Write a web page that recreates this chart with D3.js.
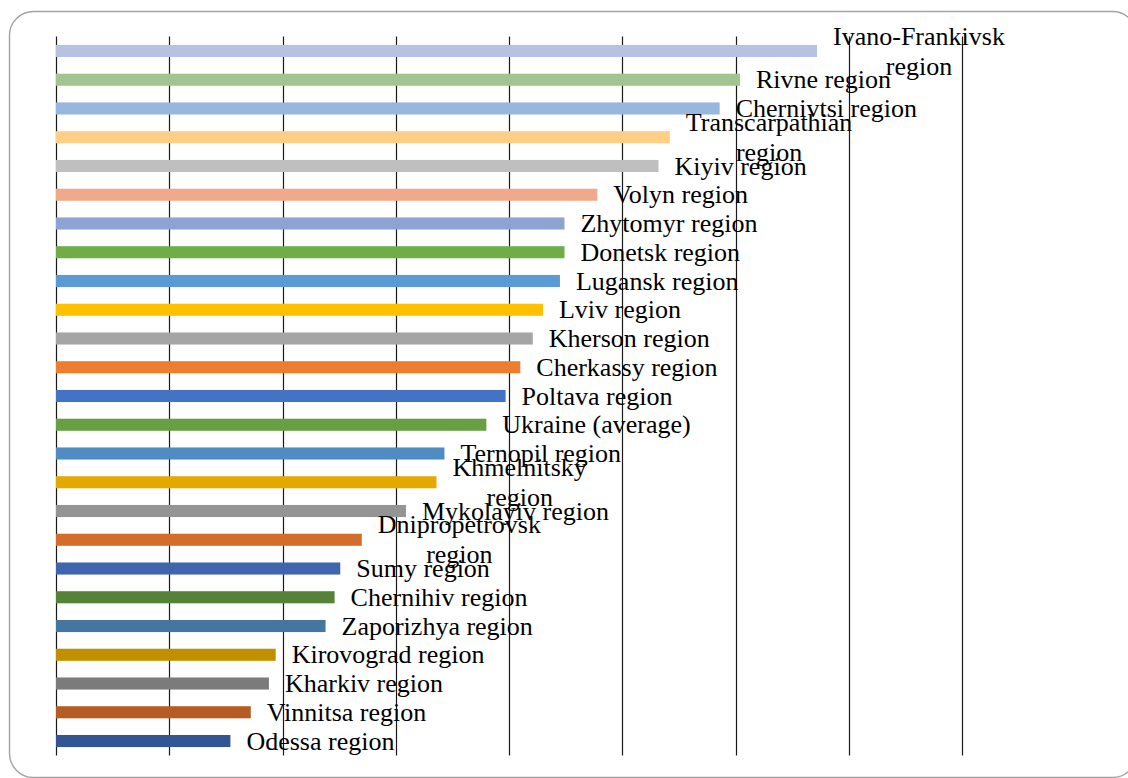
<!DOCTYPE html>
<html>
<head>
<meta charset="utf-8">
<script src="https://cdn.jsdelivr.net/npm/d3@7"></script>
<style>
  html, body { margin: 0; padding: 0; background: #ffffff; }
  svg { display: block; }
  .label { font-family: "Liberation Serif", "Times New Roman", serif; font-size: 26px; fill: #000; }
</style>
</head>
<body>
<svg id="chart" width="1128" height="778"></svg>
<script>
// Regions, ordered from highest to lowest value
const regions = [
  "Ivano-Frankivsk region", "Rivne region", "Chernivtsi region", "Transcarpathian region",
  "Kiyiv region", "Volyn region", "Zhytomyr region", "Donetsk region", "Lugansk region",
  "Lviv region", "Kherson region", "Cherkassy region", "Poltava region", "Ukraine (average)",
  "Ternopil region", "Khmelnitsky region", "Mykolayiv region", "Dnipropetrovsk region",
  "Sumy region", "Chernihiv region", "Zaporizhya region", "Kirovograd region",
  "Kharkiv region", "Vinnitsa region", "Odessa region"
];

const values = [
  67.2, 60.4, 58.6, 54.2,
  53.2, 47.8, 44.9, 44.9, 44.5,
  43.0, 42.1, 41.0, 39.7, 38.0,
  34.3, 33.6, 30.9, 27.0,
  25.1, 24.6, 23.8, 19.4,
  18.8, 17.2, 15.4
];

const barColors = [
  "#b7c2e2", "#a3c490", "#98b7de", "#fecf84",
  "#bfbfbf", "#f1a98b", "#8fa3d3", "#70ad47", "#5b9bd5",
  "#ffc000", "#a5a5a5", "#ed7d31", "#4472c4", "#679f44",
  "#4f8cc2", "#e2aa00", "#949494", "#d26d2c",
  "#3e65ae", "#548237", "#44769f", "#c09000",
  "#7b7b7b", "#b45c24", "#315694"
];

const gridTicks = [0, 10, 20, 30, 40, 50, 60, 70, 80];

const svg = d3.select("#chart");

// Slide frame
svg.append("rect")
  .attr("x", 9.5).attr("y", 11.5)
  .attr("width", 1127).attr("height", 766)
  .attr("rx", 24).attr("ry", 24)
  .attr("fill", "none")
  .attr("stroke", "#a3a3a3")
  .attr("stroke-width", 1.4);

const plot = { left: 56, right: 962, top: 36.6, bottom: 755.4 };

const x = d3.scaleLinear().domain([0, 80]).range([plot.left, plot.right]);
const y = d3.scaleBand().domain(regions)
  .range([plot.top, plot.bottom])
  .paddingInner(0.58).paddingOuter(0.29);

// Vertical gridlines
svg.append("g").selectAll("line")
  .data(gridTicks)
  .join("line")
  .attr("x1", d => Math.round(x(d)) + 0.5)
  .attr("x2", d => Math.round(x(d)) + 0.5)
  .attr("y1", plot.top)
  .attr("y2", plot.bottom)
  .attr("stroke", "#1a1a1a")
  .attr("stroke-width", 1.2);

const rows = regions.map((r, i) => ({ name: r, value: values[i], color: barColors[i] }));

// Bars
svg.append("g").selectAll("rect")
  .data(rows)
  .join("rect")
  .attr("x", x(0))
  .attr("y", d => y(d.name))
  .attr("width", d => x(d.value) - x(0))
  .attr("height", y.bandwidth())
  .attr("fill", d => d.color);

// Data labels, wrapped when wider than the label box
const maxLabelWidth = 200;
const lineHeight = 30;
const labelGap = 16;

const labels = svg.append("g");

rows.forEach(d => {
  const cy = y(d.name) + y.bandwidth() / 2;
  const probe = labels.append("text").attr("class", "label").text(d.name);
  const full = probe.node().getComputedTextLength();
  let lines = [d.name];
  if (full > maxLabelWidth) {
    const words = d.name.split(" ");
    lines = [];
    let cur = "";
    words.forEach(w => {
      const test = cur ? cur + " " + w : w;
      probe.text(test);
      if (probe.node().getComputedTextLength() > maxLabelWidth && cur) {
        lines.push(cur);
        cur = w;
      } else {
        cur = test;
      }
    });
    if (cur) lines.push(cur);
  }
  const widths = lines.map(l => { probe.text(l); return probe.node().getComputedTextLength(); });
  probe.remove();

  const boxW = d3.max(widths);
  const left = x(d.value) + labelGap;
  const firstBase = cy - (lines.length - 1) * lineHeight / 2 + 8.6;

  const t = labels.append("text")
    .attr("class", "label")
    .attr("text-anchor", lines.length > 1 ? "middle" : "start");
  lines.forEach((l, k) => {
    t.append("tspan")
      .attr("x", lines.length > 1 ? left + boxW / 2 : left)
      .attr("y", firstBase + k * lineHeight)
      .text(l);
  });
});
</script>
</body>
</html>
